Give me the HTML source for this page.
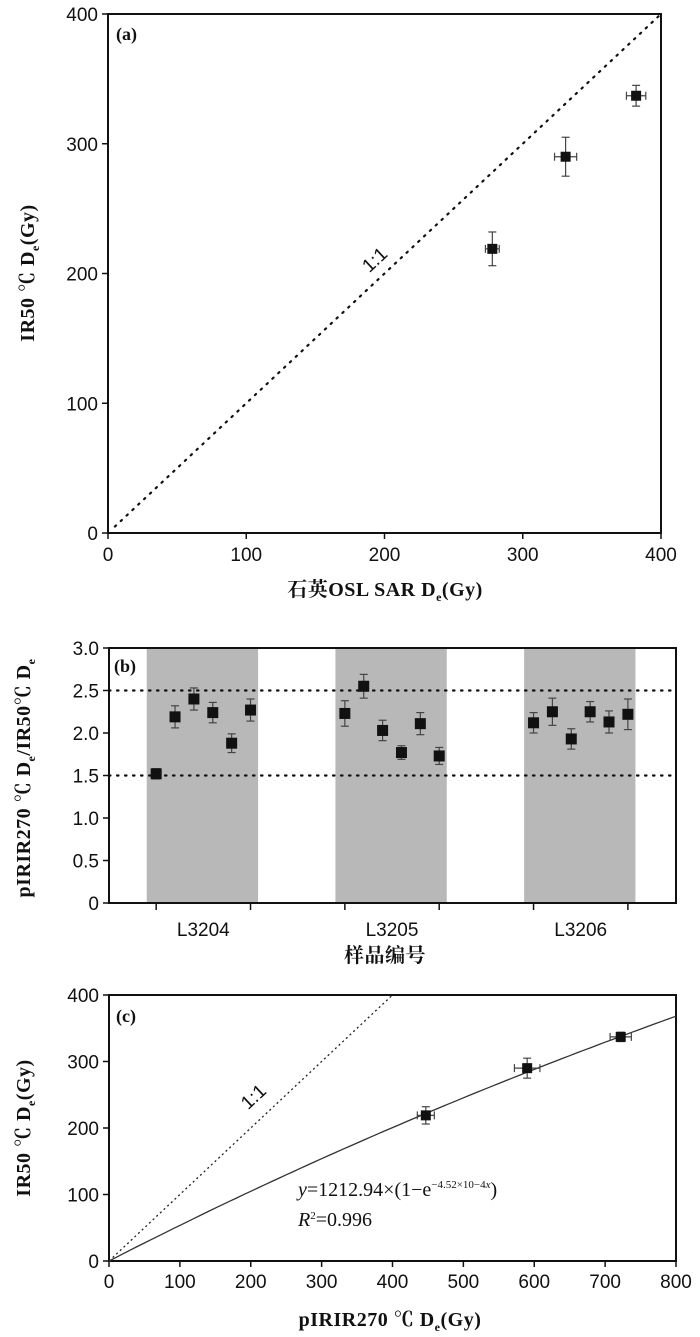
<!DOCTYPE html>
<html><head><meta charset="utf-8"><style>
html,body{margin:0;padding:0;background:#fff;}
svg{display:block;}
.tick{font-family:"Liberation Sans",sans-serif;font-size:19px;fill:#111;}
.ttl{font-family:"Liberation Serif","Noto Serif CJK SC",serif;font-size:20px;font-weight:bold;fill:#111;letter-spacing:0.5px;}
.pl{font-family:"Liberation Serif",serif;font-size:18px;font-weight:bold;fill:#111;}
</style></head><body>
<svg id="fig" width="700" height="1337" viewBox="0 0 700 1337" xmlns="http://www.w3.org/2000/svg"></svg>
<script>
// Panel (a)
const aX = [278, 331, 382];
const aY = [219, 290, 337];
const aXErr = [5, 8, 7];
const aYErr = [13, 15, 8];
const aTicks = [0, 100, 200, 300, 400];
// Panel (b)
const bGroups = ["L3204", "L3205", "L3206"];
const bIndex = [1,2,3,4,5,6, 11,12,13,14,15,16, 21,22,23,24,25,26];
const bValues = [1.52,2.19,2.40,2.24,1.88,2.27, 2.23,2.55,2.03,1.77,2.11,1.73, 2.12,2.25,1.93,2.25,2.13,2.22];
const bErr = [0.06,0.13,0.13,0.12,0.11,0.13, 0.15,0.14,0.12,0.08,0.13,0.10, 0.12,0.16,0.12,0.12,0.13,0.18];
const bYTicks = ["0","0.5","1.0","1.5","2.0","2.5","3.0"];
const bRefLines = [1.5, 2.5];
// Panel (c)
const cX = [447, 590, 722];
const cY = [219, 290, 337];
const cXErr = [12, 18, 15];
const cYErr = [13, 15, 7];
const cXTicks = [0,100,200,300,400,500,600,700,800];
const cYTicks = [0,100,200,300,400];
const fitA = 1212.94, fitK = 4.52e-4;

const svg = document.getElementById('fig');
const NS = 'http://www.w3.org/2000/svg';
function mk(tag, attrs, parent, text){
  const e = document.createElementNS(NS, tag);
  for (const k in attrs) e.setAttribute(k, attrs[k]);
  if (text !== undefined) e.textContent = text;
  (parent || svg).appendChild(e);
  return e;
}
function lin(d0,d1,r0,r1){ return v => r0 + (v-d0)/(d1-d0)*(r1-r0); }
function errbar(g, px, py, x0, x1, y0, y1, cap){
  mk('line',{x1:px,x2:px,y1:y0,y2:y1,stroke:'#444','stroke-width':1.2},g);
  mk('line',{x1:px-cap,x2:px+cap,y1:y0,y2:y0,stroke:'#444','stroke-width':1.2},g);
  mk('line',{x1:px-cap,x2:px+cap,y1:y1,y2:y1,stroke:'#444','stroke-width':1.2},g);
  if (x0!==null){
    mk('line',{x1:x0,x2:x1,y1:py,y2:py,stroke:'#444','stroke-width':1.2},g);
    mk('line',{x1:x0,x2:x0,y1:py-4,y2:py+4,stroke:'#444','stroke-width':1.2},g);
    mk('line',{x1:x1,x2:x1,y1:py-4,y2:py+4,stroke:'#444','stroke-width':1.2},g);
  }
}

// ===== Panel A =====
(function(){
  const L=108,R=661,T=14,B=533;
  const x=lin(0,400,L,R), y=lin(0,400,B,T);
  const g=mk('g',{});  
  mk('rect',{x:L,y:T,width:R-L,height:B-T,fill:'none',stroke:'#111','stroke-width':2},g);
  aTicks.forEach(t=>{
    mk('line',{x1:x(t),x2:x(t),y1:B,y2:B+6,stroke:'#111','stroke-width':1.5},g);
    mk('line',{x1:L-6,x2:L,y1:y(t),y2:y(t),stroke:'#111','stroke-width':1.5},g);
    const tx=mk('text',{x:x(t),y:B+28,'text-anchor':'middle',class:'tick'},g,String(t));
     
    const ty=mk('text',{x:L-10,y:y(t)+7,'text-anchor':'end',class:'tick'},g,String(t));
     
  });
  const ln=mk('line',{x1:x(5),y1:y(5),x2:x(400),y2:y(400),stroke:'#111','stroke-width':2.2,'stroke-dasharray':'1.5 6.5','stroke-linecap':'round'},g);
   
  const ll=mk('text',{x:0,y:0,transform:`translate(${x(196)},${y(207)}) rotate(-43)`,class:'tick','text-anchor':'middle'},g,'1:1');
   
  aX.forEach((v,i)=>{
    const px=x(v),py=y(aY[i]);
    const pg=mk('g',{},g);  
    errbar(pg,px,py,x(v-aXErr[i]),x(v+aXErr[i]),y(aY[i]-aYErr[i]),y(aY[i]+aYErr[i]),4);
    mk('rect',{x:px-5,y:py-5,width:10,height:10,fill:'#111'},pg);
  });
  const pl=mk('text',{x:116,y:40,class:'pl'},g,'(a)');  
  const xt=mk('text',{x:385,y:596,'text-anchor':'middle',class:'ttl'},g);  
  xt.innerHTML='石英OSL SAR D<tspan font-size="12" dy="5">e</tspan><tspan dy="-5">(Gy)</tspan>';
  const yt=mk('text',{transform:'translate(34,273) rotate(-90)','text-anchor':'middle',class:'ttl'},g);  
  yt.innerHTML='IR50 ℃ D<tspan font-size="12" dy="5">e</tspan><tspan dy="-5">(Gy)</tspan>';
})();

// ===== Panel B =====
(function(){
  const L=109,R=676,T=648,B=903;
  const x=lin(-1.5,28.55,L,R), y=lin(0,3,B,T);
  const g=mk('g',{});  
  bGroups.forEach((name,k)=>{
    const i0=bIndex[k*6], i1=bIndex[k*6+5];
    const band=mk('rect',{x:x(i0-0.5),y:T,width:x(i1+0.4)-x(i0-0.5),height:B-T,fill:'#b8b8b8'},g);
     
    [i0,i1].forEach(t=>mk('line',{x1:x(t),x2:x(t),y1:B,y2:B+7,stroke:'#111','stroke-width':1.5},g));
    const lb=mk('text',{x:(x(i0)+x(i1))/2,y:B+33,'text-anchor':'middle',class:'tick'},g,name);
     
  });
  mk('rect',{x:L,y:T,width:R-L,height:B-T,fill:'none',stroke:'#111','stroke-width':2},g);
  bYTicks.forEach(t=>{
    const v=parseFloat(t);
    mk('line',{x1:L-6,x2:L,y1:y(v),y2:y(v),stroke:'#111','stroke-width':1.5},g);
    const ty=mk('text',{x:L-10,y:y(v)+7,'text-anchor':'end',class:'tick'},g,t);
     
  });
  bRefLines.forEach(v=>{
    const rl=mk('line',{x1:L,x2:R,y1:y(v),y2:y(v),stroke:'#111','stroke-width':2.2,'stroke-dasharray':'1.5 6.5','stroke-linecap':'round'},g);
     
  });
  bIndex.forEach((idx,i)=>{
    const px=x(idx),py=y(bValues[i]);
    const pg=mk('g',{},g);  
    errbar(pg,px,py,null,null,y(bValues[i]-bErr[i]),y(bValues[i]+bErr[i]),4);
    mk('rect',{x:px-5.5,y:py-5.5,width:11,height:11,fill:'#111'},pg);
  });
  const pl=mk('text',{x:114,y:672,class:'pl','font-weight':'normal'},g,'(b)');  
  const xt=mk('text',{x:385,y:962,'text-anchor':'middle',class:'ttl'},g,'样品编号');  
  const yt=mk('text',{transform:'translate(30,778) rotate(-90)','text-anchor':'middle',class:'ttl'},g);  
  yt.innerHTML='pIRIR270 ℃ D<tspan font-size="12" dy="5">e</tspan><tspan dy="-5">/IR50℃ D</tspan><tspan font-size="12" dy="5">e</tspan>';
})();

// ===== Panel C =====
(function(){
  const L=109,R=676,T=995,B=1261;
  const x=lin(0,800,L,R), y=lin(0,400,B,T);
  const g=mk('g',{});  
  mk('rect',{x:L,y:T,width:R-L,height:B-T,fill:'none',stroke:'#111','stroke-width':2},g);
  cXTicks.forEach(t=>{
    mk('line',{x1:x(t),x2:x(t),y1:B,y2:B+6,stroke:'#111','stroke-width':1.5},g);
    const tx=mk('text',{x:x(t),y:B+27,'text-anchor':'middle',class:'tick'},g,String(t));
     
  });
  cYTicks.forEach(t=>{
    mk('line',{x1:L-6,x2:L,y1:y(t),y2:y(t),stroke:'#111','stroke-width':1.5},g);
    const ty=mk('text',{x:L-10,y:y(t)+7,'text-anchor':'end',class:'tick'},g,String(t));
     
  });
  const ln=mk('line',{x1:x(0),y1:y(0),x2:x(400),y2:y(400),stroke:'#222','stroke-width':1.3,'stroke-dasharray':'2 3'},g);
   
  const ll=mk('text',{transform:`translate(${x(210)},${y(240)}) rotate(-43)`,class:'tick','text-anchor':'middle'},g,'1:1');
   
  let d='';
  for(let v=0; v<=800; v+=10){ const yy=fitA*(1-Math.exp(-fitK*v)); d+=(v?'L':'M')+x(v).toFixed(1)+','+y(yy).toFixed(1); }
  const fit=mk('path',{d:d,fill:'none',stroke:'#333','stroke-width':1.3},g);
   
  cX.forEach((v,i)=>{
    const px=x(v),py=y(cY[i]);
    const pg=mk('g',{},g);  
    errbar(pg,px,py,x(v-cXErr[i]),x(v+cXErr[i]),y(cY[i]-cYErr[i]),y(cY[i]+cYErr[i]),4);
    mk('rect',{x:px-5,y:py-5,width:10,height:10,fill:'#111'},pg);
  });
  const eq=mk('text',{x:298,y:1196,'font-family':'"Liberation Serif",serif','font-size':'20',fill:'#111'},g);
   
  eq.innerHTML='<tspan font-style="italic">y</tspan>=1212.94×(1−e<tspan font-size="11" dy="-8">−4.52×10−4</tspan><tspan font-size="11" font-style="italic">x</tspan><tspan dy="8">)</tspan>';
  const r2=mk('text',{x:298,y:1226,'font-family':'"Liberation Serif",serif','font-size':'20',fill:'#111'},g);
   
  r2.innerHTML='<tspan font-style="italic">R</tspan><tspan font-size="11" dy="-7">2</tspan><tspan dy="7">=0.996</tspan>';
  const pl=mk('text',{x:116,y:1022,class:'pl','font-weight':'normal'},g,'(c)');  
  const xt=mk('text',{x:390,y:1326,'text-anchor':'middle',class:'ttl'},g);  
  xt.innerHTML='pIRIR270 ℃ D<tspan font-size="12" dy="5">e</tspan><tspan dy="-5">(Gy)</tspan>';
  const yt=mk('text',{transform:'translate(30,1128) rotate(-90)','text-anchor':'middle',class:'ttl'},g);  
  yt.innerHTML='IR50 ℃ D<tspan font-size="12" dy="5">e</tspan><tspan dy="-5">(Gy)</tspan>';
})();
</script>
</body></html>
